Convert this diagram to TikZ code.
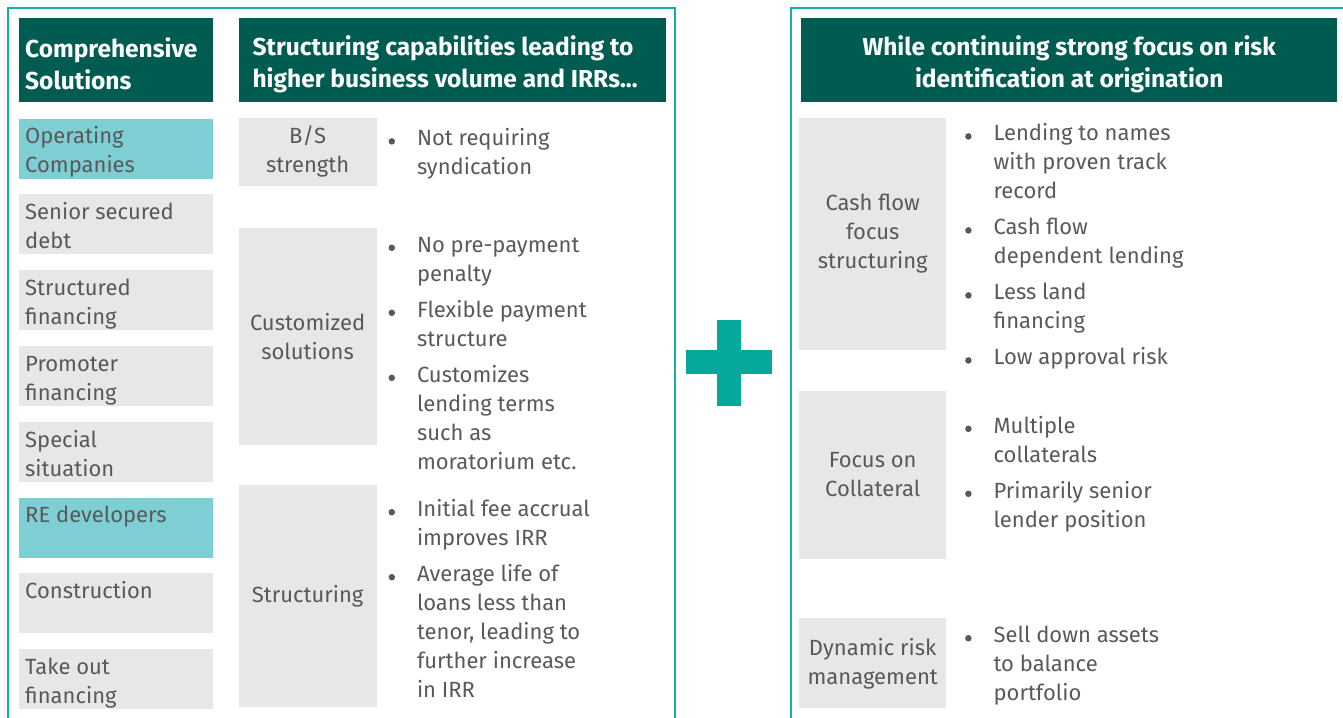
\documentclass[tikz,border=0pt]{standalone}
\usepackage{fontspec}
\setmainfont{Fira Sans}
\usepackage{tikz}
\usetikzlibrary{calc,positioning}

\definecolor{FrameTeal}{RGB}{18,176,160}
\definecolor{HeadGreen}{RGB}{0,91,80}
\definecolor{LightTeal}{RGB}{126,207,211}
\definecolor{BoxGray}{RGB}{230,231,232}
\definecolor{PlusTeal}{RGB}{5,169,155}
\definecolor{TextGray}{RGB}{88,89,91}

\tikzset{
  panel/.style={anchor=north west,draw=FrameTeal,line width=2pt,minimum height=760pt,inner sep=0pt},
  headbox/.style={anchor=north west,fill=HeadGreen,minimum height=84pt,inner sep=0pt},
  headtext/.style={text=white,font=\fontsize{24.5}{32}\selectfont\bfseries,inner sep=0pt},
  solbox/.style={anchor=north west,minimum width=194pt,minimum height=60pt,inner sep=0pt},
  soltext/.style={anchor=north west,text=TextGray,font=\fontsize{22}{29}\selectfont,align=left,inner sep=0pt},
  catbox/.style={anchor=north west,fill=BoxGray,text=TextGray,font=\fontsize{22}{29}\selectfont,align=center,inner sep=0pt},
  pointtext/.style={anchor=north west,text=TextGray,font=\fontsize{22}{29}\selectfont,align=left,inner sep=0pt},
  bulletdot/.style={circle,fill=TextGray,inner sep=0pt,minimum size=6.5pt},
}

\begin{document}
\begin{tikzpicture}[x=1pt,y=-1pt]

  \useasboundingbox (0,0) rectangle (1343,717);
  \clip (0,0) rectangle (1343,717);

  % Panels
  \path (7,7)   node[panel,minimum width=667pt] (left-panel) {};
  \path (790,7) node[panel,minimum width=620pt] (right-panel) {};

  % Plus
  \fill[PlusTeal] (717,320) rectangle (741,406);
  \fill[PlusTeal] (686,350) rectangle (772,374);

  % Headers
  \path (19,18)                      node[headbox,minimum width=194pt] (head-sol) {};
  \path (head-sol.north east) +(25,0) node[headbox,minimum width=427pt] (head-cap) {};
  \path (801,18)                     node[headbox,minimum width=536pt] (head-risk) {};
  \path (head-sol.west) +(6,4)  node[headtext,anchor=west,align=left] (head-sol-text) {Comprehensive\\Solutions};
  \path (head-cap.west) +(14,4) node[headtext,anchor=west,align=left] (head-cap-text) {Structuring capabilities leading to\\higher business volume and IRRs...};
  \path (head-risk.center) +(0,4) node[headtext,align=center] (head-risk-text) {While continuing strong focus on risk\\identification at origination};

  % Solutions
  % \solution{<id>}{<pos>}{<fill>}{<text>}
  \DeclareDocumentCommand \solution { m m m m }{%
    \path #2 node[solbox,fill=#3] (sol-#1) {};
    \path (sol-#1.north west) +(6,5) node[soltext] (sol-text-#1) {\strut #4};
  }
  \solution{0}{($(head-sol.south west)+(0,16)$)}{LightTeal}{Operating\\Companies}
  \solution{1}{($(sol-0.south west)+(0,15.4)$)}{BoxGray}{Senior secured\\debt}
  \solution{2}{($(sol-1.south west)+(0,15.4)$)}{BoxGray}{Structured\\financing}
  \solution{3}{($(sol-2.south west)+(0,15.4)$)}{BoxGray}{Promoter\\financing}
  \solution{4}{($(sol-3.south west)+(0,15.4)$)}{BoxGray}{Special\\situation}
  \solution{5}{($(sol-4.south west)+(0,15.4)$)}{LightTeal}{RE developers}
  \solution{6}{($(sol-5.south west)+(0,15.4)$)}{BoxGray}{Construction}
  \solution{7}{($(sol-6.south west)+(0,15.4)$)}{BoxGray}{Take out\\financing}

  % Bullet points
  % \point{<id>}{<pos>}{<text>}
  \DeclareDocumentCommand \point { m m m }{%
    \path #2 node[bulletdot] (dot-#1) {};
    \path (dot-#1.center) +(25,-16) node[pointtext] (point-#1) {\strut #3};
  }

  % Capabilities
  \path ($(head-cap.south west)+(0,15)$) node[catbox,minimum width=138pt,minimum height=68pt]  (cap-0) {B/S\\strength};
  \path ($(cap-0.south west)+(0,42)$)    node[catbox,minimum width=138pt,minimum height=217pt] (cap-1) {Customized\\solutions};
  \path ($(cap-1.south west)+(0,40)$)    node[catbox,minimum width=138pt,minimum height=222pt] (cap-2) {Structuring};
  \point{cap-0-0}{($(cap-0.north east)+(15,24)$)}{Not requiring\\syndication}
  \point{cap-1-0}{($(cap-1.north east)+(15,20)$)}{No pre-payment\\penalty}
  \point{cap-1-1}{($(cap-1.north east)+(15,85)$)}{Flexible payment\\structure}
  \point{cap-1-2}{($(cap-1.north east)+(15,150)$)}{Customizes\\lending terms\\such as\\moratorium etc.}
  \point{cap-2-0}{($(cap-2.north east)+(15,27)$)}{Initial fee accrual\\improves IRR}
  \point{cap-2-1}{($(cap-2.north east)+(15,92)$)}{Average life of\\loans less than\\tenor, leading to\\further increase\\in IRR}

  % Risk
  \path ($(head-risk.south west)+(-2,15)$) node[catbox,minimum width=147pt,minimum height=232pt] (risk-0) {Cash flow\\focus\\structuring};
  \path ($(risk-0.south west)+(0,41)$)     node[catbox,minimum width=147pt,minimum height=168pt] (risk-1) {Focus on\\Collateral};
  \path ($(risk-1.south west)+(0,59)$)     node[catbox,minimum width=147pt,minimum height=90pt]  (risk-2) {Dynamic risk\\management};
  \point{risk-0-0}{($(risk-0.north east)+(22,19)$)}{Lending to names\\with proven track\\record}
  \point{risk-0-1}{($(risk-0.north east)+(22,113)$)}{Cash flow\\dependent lending}
  \point{risk-0-2}{($(risk-0.north east)+(22,178)$)}{Less land\\financing}
  \point{risk-0-3}{($(risk-0.north east)+(22,243)$)}{Low approval risk}
  \point{risk-1-0}{($(risk-1.north east)+(22,38)$)}{Multiple\\collaterals}
  \point{risk-1-1}{($(risk-1.north east)+(22,103)$)}{Primarily senior\\lender position}
  \point{risk-2-0}{($(risk-2.north east)+(22,20)$)}{Sell down assets\\to balance\\portfolio}

\end{tikzpicture}
\end{document}
